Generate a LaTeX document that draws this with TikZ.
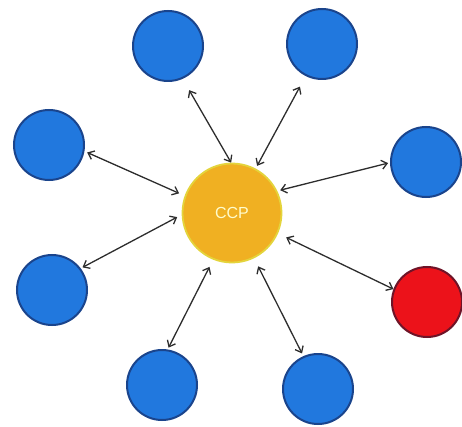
\documentclass[tikz,border=0pt]{standalone}
\usepackage{fontspec}
\setsansfont{Liberation Sans}
\usetikzlibrary{arrows.meta}
\definecolor{peerblue}{RGB}{33,120,222}
\definecolor{peeredge}{RGB}{26,68,140}
\definecolor{ccpfill}{RGB}{240,176,34}
\definecolor{ccpedge}{RGB}{228,212,60}
\definecolor{failred}{RGB}{236,18,26}
\definecolor{failedge}{RGB}{110,20,40}
\definecolor{linkgray}{RGB}{45,45,45}

\begin{document}
\begin{tikzpicture}[x=1pt,y=-1pt,>={Straight Barb[length=5.5pt,width=9pt]},
    peer/.style={circle,draw=peeredge,line width=2pt,fill=peerblue,minimum size=70pt,inner sep=0pt},
    link/.style={<->,draw=linkgray,line width=1.3pt}]
    \useasboundingbox (0,0) rectangle (462,427);
    \node[circle,draw=ccpedge,line width=1.8pt,fill=ccpfill,minimum size=99pt,inner sep=0pt,
          text=yellow!20,font=\sffamily\fontsize{16}{16}\selectfont] (ccp) at (232,213) {CCP};
    \node[peer] (tl) at (168,46) {};
    \node[peer] (tr) at (322,44) {};
    \node[peer] (lu) at (49,145) {};
    \node[peer] (ru) at (426,162) {};
    \node[peer] (ll) at (52,290) {};
    \node[peer,draw=failedge,fill=failred] (fail) at (427,302) {};
    \node[peer] (bl) at (162,385) {};
    \node[peer] (br) at (318,389) {};
    \draw[link,shorten <=13pt] (tl.-66) -- (ccp.91);
    \draw[link,shorten <=12pt,shorten >=3pt] (tr.-117) -- (ccp.62);
    \draw[link,shorten <=3pt,shorten >=6pt] (lu.-10) -- (ccp.160);
    \draw[link,shorten <=2pt,shorten >=3pt] (ru.181) -- (ccp.26);
    \draw[link,shorten <=2pt,shorten >=5pt] (ll.37) -- (ccp.182);
    \draw[link,shorten >=9pt] (fail.159) -- (ccp.-24);
    \draw[link,shorten <=2pt,shorten >=8pt] (bl.81) -- (ccp.-112);
    \draw[link,shorten <=3pt,shorten >=9pt] (br.114) -- (ccp.-64);
\end{tikzpicture}
\end{document}
